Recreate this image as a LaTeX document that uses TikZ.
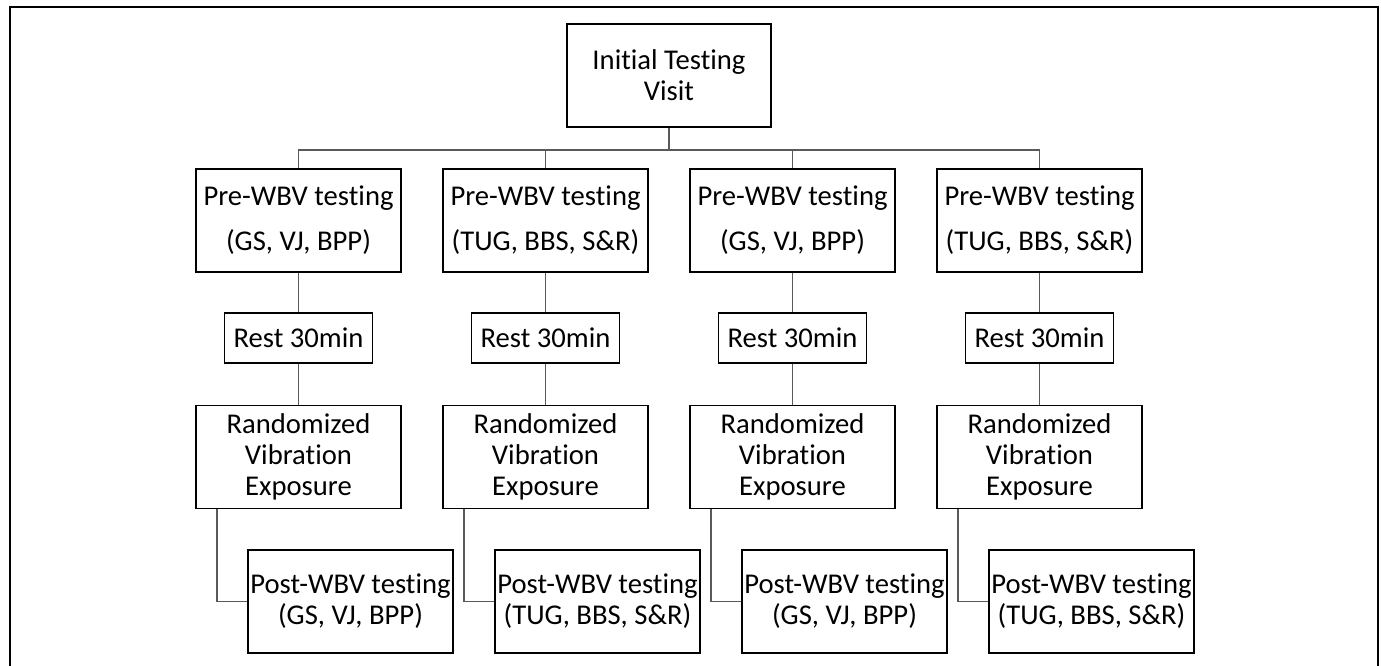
\documentclass[tikz,border=0pt]{standalone}
\usepackage{fontspec}
\setmainfont{Carlito}[Ligatures=NoCommon]
\usepackage{tikz}

\begin{document}
\begin{tikzpicture}[
    box/.style={draw, line width=1.1pt, align=center, inner sep=1pt,
        minimum width=4.1cm, minimum height=2.06cm,
        font=\fontsize{16.3}{17.6}\selectfont},
    restbox/.style={box, minimum width=2.96cm, minimum height=1cm},
    link/.style={draw=black!65, line width=0.7pt}
]
    % Define dimensions
    \def\colone{5.97}   % x of first column (cm)
    \def\colsep{4.94}   % column spacing (cm)
    \def\shift{1.04}    % post box offset to the right (cm)
    \def\drop{0.44}     % drop from top box to the branch line (cm)

    \useasboundingbox (0,0) rectangle (27.62,13.32);

    % Outer frame
    \draw[line width=1.4pt] (0.2,-0.3) -- (0.2,13.18) -- (27.56,13.18) -- (27.56,-0.3);

    % Top box
    \node[box, minimum width=4.08cm] (visit) at (13.38,11.81) {Initial Testing\\Visit};

    % Four columns
    \foreach \i/\tests in {1/{(GS, VJ, BPP)},2/{(TUG, BBS, S\&R)},3/{(GS, VJ, BPP)},4/{(TUG, BBS, S\&R)}} {
        \pgfmathsetmacro\x{\colone+(\i-1)*\colsep}
        \node[box] (pre\i) at (\x,8.91) {Pre-WBV testing\\[0.28cm]\tests};
        \node[restbox] (rest\i) at (\x,6.56) {Rest 30min};
        \node[box] (rand\i) at (\x,4.18) {Randomized\\Vibration\\Exposure};
        \node[box] (post\i) at (\x+\shift,1.29) {Post-WBV testing\\\tests};

        \draw[link] (visit.south) -- ++(0,-\drop) -| (pre\i.north);
        \draw[link] (pre\i.south) -- (rest\i.north);
        \draw[link] (rest\i.south) -- (rand\i.north);
        \draw[link] ([xshift=0.44cm]rand\i.south west) |- (post\i.west);
    }
\end{tikzpicture}
\end{document}
